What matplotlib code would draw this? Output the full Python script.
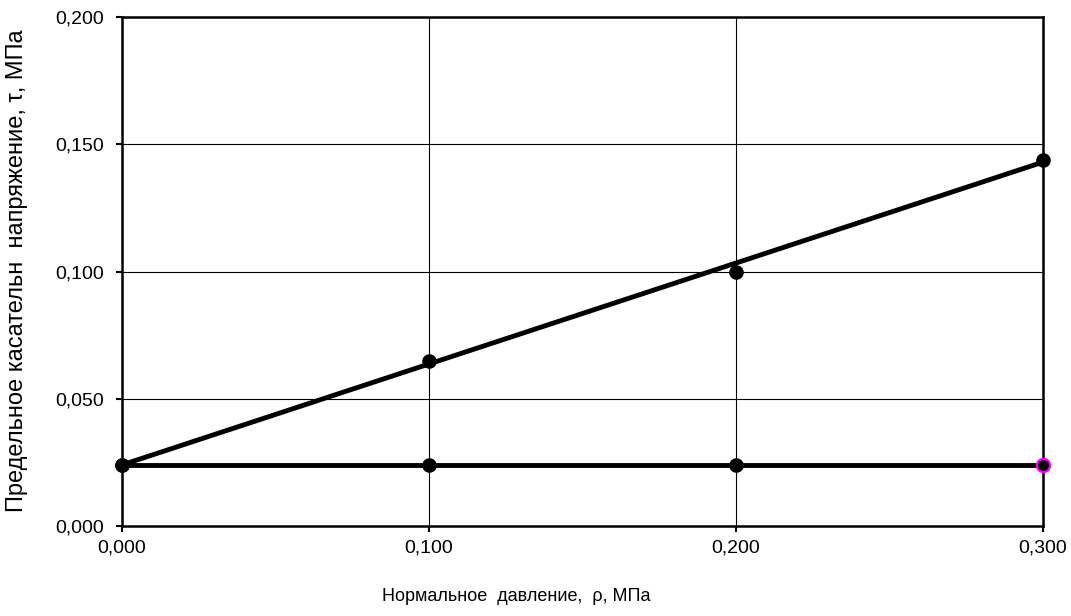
import matplotlib.pyplot as plt

plt.rcParams['font.family'] = ['Liberation Sans', 'DejaVu Sans']

# нормальное давление и касательное напряжение
p = [0.0, 0.1, 0.2, 0.3]
tau = [0.024, 0.065, 0.100, 0.144]
tau_c = [0.024, 0.024, 0.024, 0.024]
trend = [0.024, 0.143]
trend_x = [0.0, 0.3]

fig = plt.figure(figsize=(10.71, 6.16), dpi=100)
ax = fig.add_axes([0.1139, 0.1461, 0.86, 0.8263])

ax.plot(trend_x, trend, color='black', lw=3.5, zorder=3, clip_on=False)
ax.plot(p, tau, 'o', color='black', ms=9.5, zorder=4, clip_on=False)
ax.plot(p, tau_c, color='black', lw=3.5, zorder=3, clip_on=False)
ax.plot(p[:3], tau_c[:3], 'o', color='black', ms=9.5, zorder=4, clip_on=False)
ax.plot(p[3:], tau_c[3:], 'o', mfc='black', mec='#ff00ff', mew=1.6, ms=9.5, zorder=5,
        clip_on=False)

ax.set_xlim(0, 0.3)
ax.set_ylim(0, 0.2)
ax.set_xticks([0, 0.1, 0.2, 0.3])
ax.set_yticks([0, 0.05, 0.1, 0.15, 0.2])
ax.set_xticklabels(['0,000', '0,100', '0,200', '0,300'])
ax.set_yticklabels(['0,000', '0,050', '0,100', '0,150', '0,200'])
ax.grid(True, color='black', lw=0.8)
ax.tick_params(direction='out', length=4, width=1.5, labelsize=14, colors='black')
ax.tick_params(axis='x', pad=6)
ax.tick_params(axis='y', pad=9)
for s in ax.spines.values():
    s.set_linewidth(1.8)

fig.text(0.482, 0.032, 'Нормальное  давление,  ρ, МПа', ha='center', va='center', fontsize=13)
fig.text(0.016, 0.56, 'Предельное касательн  напряжение, τ, МПа', ha='center', va='center',
         rotation=90, fontsize=17)

fig.savefig('out.png', dpi=100)
